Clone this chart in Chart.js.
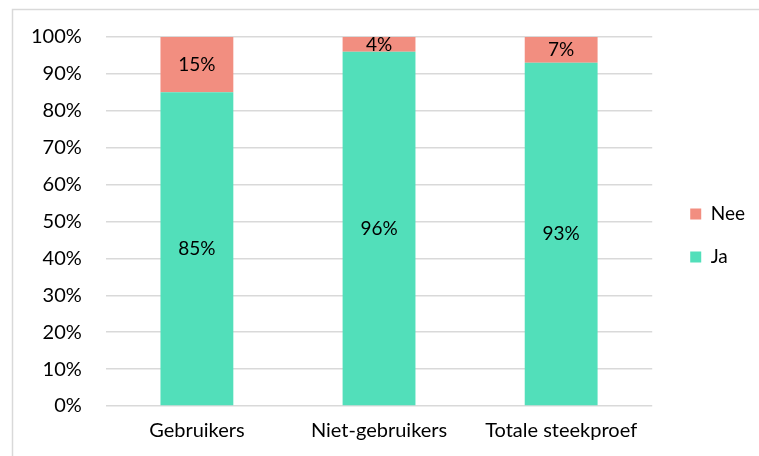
<!DOCTYPE html>
<html>
<head>
<meta charset="utf-8">
<script src="https://cdn.jsdelivr.net/npm/chart.js@4"></script>
<style>
  html, body { margin: 0; padding: 0; background: #fff; }
  #chart { display: block; }
</style>
</head>
<body>
<canvas id="chart" width="759" height="456"></canvas>
<script>
const categories = ["Gebruikers", "Niet-gebruikers", "Totale steekproef"];
const jaValues = [85, 96, 93];
const neeValues = [15, 4, 7];
const yTicks = [0, 10, 20, 30, 40, 50, 60, 70, 80, 90, 100];

const FONT = "Lato, 'Open Sans', sans-serif";

// light frame on the top and left edges
const framePlugin = {
  id: "frame",
  beforeDraw(chart) {
    const c = chart.ctx;
    c.save();
    c.strokeStyle = "#D9D9D9";
    c.lineWidth = 1.5;
    c.beginPath();
    c.moveTo(12.5, chart.height);
    c.lineTo(12.5, 9.5);
    c.lineTo(chart.width, 9.5);
    c.stroke();
    c.restore();
  }
};

// value labels in the middle of every segment
const segmentLabels = {
  id: "segmentLabels",
  afterDatasetsDraw(chart) {
    const c = chart.ctx;
    c.save();
    c.font = "19px " + FONT;
    c.fillStyle = "#000";
    c.textAlign = "center";
    c.textBaseline = "middle";
    chart.data.datasets.forEach((ds, i) => {
      chart.getDatasetMeta(i).data.forEach((bar, j) => {
        const y = (bar.y + bar.base) / 2;
        c.fillText(ds.data[j] + "%", bar.x, y);
      });
    });
    c.restore();
  }
};

// nudge the legend away from the plot and a bit upwards
const legendShift = {
  id: "legendShift",
  afterLayout(chart) {
    const lg = chart.legend;
    lg.left += 14;
    lg.right += 14;
    lg.top -= 11;
    lg.bottom -= 11;
  }
};

const ctx = document.getElementById("chart").getContext("2d");

new Chart(ctx, {
  type: "bar",
  data: {
    labels: categories,
    datasets: [
      { label: "Ja", data: jaValues, backgroundColor: "#52DFBA" },
      { label: "Nee", data: neeValues, backgroundColor: "#F28E80" }
    ]
  },
  options: {
    responsive: false,
    animation: false,
    layout: { padding: { left: 7, right: 18, top: 37, bottom: 0 } },
    datasets: { bar: { barPercentage: 0.4, categoryPercentage: 1 } },
    plugins: {
      legend: {
        position: "right",
        reverse: true,
        labels: {
          boxWidth: 11,
          boxHeight: 11,
          padding: 24,
          color: "#000",
          font: { family: FONT, size: 19 }
        }
      },
      tooltip: { enabled: false }
    },
    scales: {
      x: {
        stacked: true,
        grid: { display: false, drawTicks: false },
        border: { display: false },
        ticks: { color: "#000", padding: 13, maxRotation: 0, font: { family: FONT, size: 20 } }
      },
      y: {
        stacked: true,
        min: 0,
        max: 100,
        afterBuildTicks(scale) {
          scale.ticks = yTicks.map(v => ({ value: v }));
        },
        grid: { color: "#D9D9D9", lineWidth: 1.5, drawTicks: false },
        border: { display: false },
        ticks: {
          color: "#000",
          padding: 24,
          font: { family: FONT, size: 20 },
          callback: v => v + "%"
        }
      }
    }
  },
  plugins: [framePlugin, segmentLabels, legendShift]
});
</script>
</body>
</html>
